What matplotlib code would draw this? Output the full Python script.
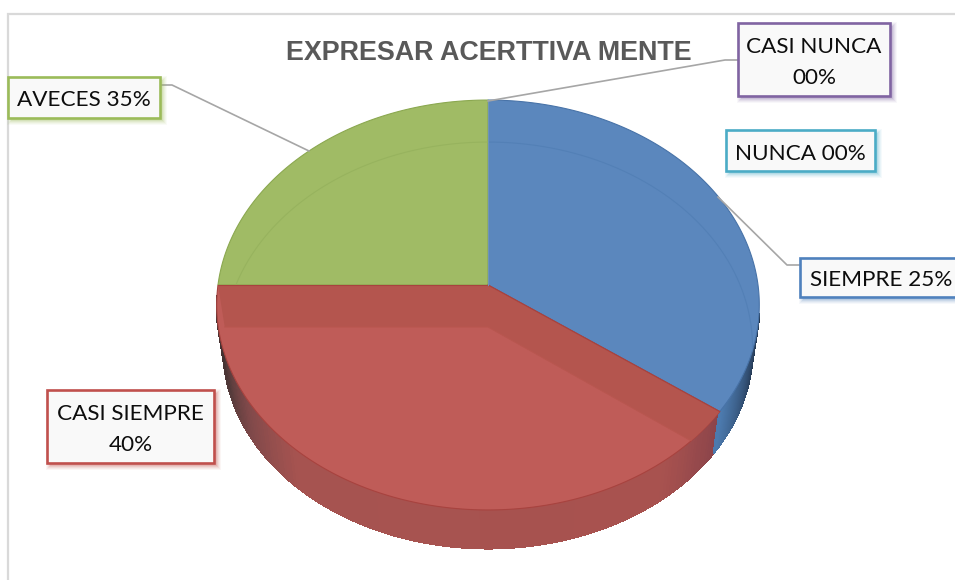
import numpy as np
import matplotlib
matplotlib.use("Agg")
import matplotlib.pyplot as plt
from matplotlib.collections import PolyCollection
from matplotlib.colors import LinearSegmentedColormap
from matplotlib.patches import Polygon, Rectangle

# slices as they are drawn, clockwise from 12 o'clock
slice_names = ["azul", "rojo", "verde"]
slice_shares = [35, 40, 25]
title_text = "EXPRESAR ACERTTIVA MENTE"
label_texts = ["CASI NUNCA\n00%", "NUNCA 00%", "SIEMPRE 25%", "CASI SIEMPRE\n40%", "AVECES 35%"]

# pie geometry
CX, CY = 488, 285
A, B, K = 270, 203, 0.0976
SHRINK = 0.975
WALL_CY = 329
INNER_CY = 327

top_col = {"azul": "#5b87bd", "rojo": "#bf5c58", "verde": "#a0bb65"}
edge_col = {"azul": "#4873a8", "rojo": "#a8433f", "verde": "#8ba850"}
inner_col = {"azul": "#5380b6", "verde": "#97b35e"}
BAND_COL = "#b4554e"

fig = plt.figure(figsize=(9.55, 5.8), dpi=100)
ax = fig.add_axes([0, 0, 1, 1])
ax.set_xlim(0, 955)
ax.set_ylim(580, 0)
ax.axis("off")

def project(deg, cy=CY, a=A, b=B):
    t = np.radians(deg)
    w = 1 + K * np.cos(t)
    return CX + a * np.sin(t) / w, cy - b * np.cos(t) / w

def xy(deg, **kw):
    return np.column_stack(project(deg, **kw))

edges = np.concatenate([[0], np.cumsum(slice_shares)]) * 3.6
span = dict(zip(slice_names, zip(edges[:-1], edges[1:])))

# frame
ax.plot([8, 8, 955], [580, 14, 14], color="#d9d9d9", lw=1.6, solid_joinstyle="miter")

# side wall
def wall(d0, d1, cmap):
    th = np.linspace(d0, d1, 160)
    rim = xy(th)
    low = xy(th, cy=WALL_CY, a=A * SHRINK, b=B * SHRINK)
    quads = [[rim[i], rim[i + 1], low[i + 1], low[i]] for i in range(len(th) - 1)]
    pc = PolyCollection(quads, cmap=cmap, linewidths=1.0, antialiaseds=False, zorder=2)
    pc.set_array(np.linspace(0, 1, len(quads)))
    pc.set_edgecolor("face")
    ax.add_collection(pc)

red_wall = LinearSegmentedColormap.from_list("r", [(0, "#8b444a"), (0.12, "#a8524f"), (0.68, "#a65350"), (0.8, "#80494a"), (0.9, "#533a3a"), (1, "#3d2f2f")])
blue_wall = LinearSegmentedColormap.from_list("b", [(0, "#1e2c3e"), (0.45, "#2f4a6c"), (1, "#4c7aae")])
wall(span["rojo"][0], span["rojo"][1] - 3, red_wall)
wall(span["azul"][1] - 28, span["azul"][1], blue_wall)

# top faces
faces = {}
for name in slice_names:
    d0, d1 = span[name]
    pts = np.vstack([[CX, CY], xy(np.linspace(d0, d1, 200))])
    faces[name] = Polygon(pts, closed=True, fc=top_col[name], ec=edge_col[name], lw=0.8, zorder=3)
    ax.add_patch(faces[name])

# darker band on the red slice, then the bevel line on the others
d0, d1 = span["rojo"]
p0, p1 = xy(np.array([d0, d1]))
q0, q1 = xy(np.array([d0, d1]), cy=INNER_CY, a=A * SHRINK, b=B)
band = Polygon([[CX, CY], p0, q0, [CX, INNER_CY], q1, p1], closed=True, fc=BAND_COL, ec="none", zorder=4)
ax.add_patch(band)
band.set_clip_path(faces["rojo"])
inner_edge, = ax.plot([q0[0], CX, q1[0]], [q0[1], INNER_CY, q1[1]], color="#b8564f", lw=0.8, zorder=4)
inner_edge.set_clip_path(faces["rojo"])
for name in ["azul", "verde"]:
    d0, d1 = span[name]
    x, y = project(np.linspace(d0, d1, 200), cy=INNER_CY, a=A * SHRINK, b=B)
    arc, = ax.plot(x, y, color=inner_col[name], lw=0.8, zorder=4)
    arc.set_clip_path(faces[name])
ax.plot([CX, p0[0]], [CY, p0[1]], color="#a8433f", lw=0.8, zorder=5)
ax.plot([CX, p1[0]], [CY, p1[1]], color="#a8433f", lw=0.8, zorder=5)
ax.plot([CX, CX], [CY, CY - B / (1 + K)], color="#6f93b8", lw=0.8, zorder=5)

# leader lines
leaders = [([160, 172, 309], [85, 85, 151]),
           ([799, 787, 718], [265, 265, 197]),
           ([738, 725, 488], [60, 60, 101])]
for lx, ly in leaders:
    ax.plot(lx, ly, color="#a6a6a6", lw=1.2, zorder=6)

ax.text(488.5, 53, title_text, ha="center", va="center", color="#595959", fontsize=19.4,
        fontweight="bold", family="Liberation Sans", zorder=7)

# label boxes: x0, y0, x1, y1, colour
boxes = [(738, 23, 890, 96, "#8064a2"),
         (726, 130, 875, 171, "#4bacc6"),
         (800, 258, 962, 297, "#4f81bd"),
         (47, 390, 214, 463, "#c0504d"),
         (8, 77, 160, 118, "#9bbb59")]
for (x0, y0, x1, y1, col), txt in zip(boxes, label_texts):
    for grow, alpha in [(4, 0.05), (3, 0.07), (2, 0.09), (1, 0.12), (0, 0.16)]:
        ax.add_patch(Rectangle((x0 + 3 - grow, y0 + 3 - grow), x1 - x0 + 2 * grow, y1 - y0 + 2 * grow,
                               fc=col, ec="none", alpha=alpha, zorder=8))
    ax.add_patch(Rectangle((x0, y0), x1 - x0, y1 - y0, fc="#f9f9f9", ec=col, lw=1.9, zorder=9, joinstyle="miter"))
    tx = (x0 + x1) / 2
    if txt.startswith("SIEMPRE"):
        tx = 881.5
    ax.text(tx, (y0 + y1) / 2 + 3, txt, ha="center", va="center", color="#0d0d0d", fontsize=16.2,
            family="Lato", linespacing=1.66, zorder=10)

fig.savefig("out.png", dpi=100)
